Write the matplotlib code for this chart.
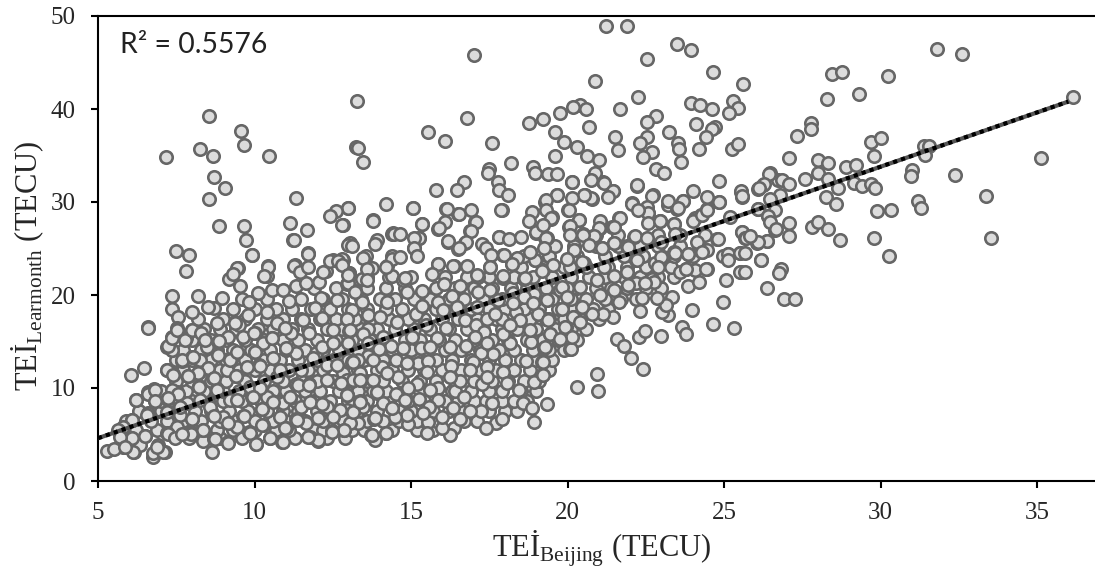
import matplotlib
matplotlib.use("Agg")
import matplotlib.pyplot as plt

# (TEI Beijing, TEI Learmonth), one list per area
upper_left = [(7.17,34.8),(8.26,35.7),(8.67,35.0),(8.55,39.3),(9.57,37.6),(9.66,36.1),(10.47,35.0),(8.71,32.7),(9.06,31.5),(8.55,30.3),
    (8.87,27.4),(9.66,27.4),(9.73,25.9),(9.92,24.3),(7.49,24.7),(7.9,24.3),(7.81,22.6),(9.44,22.9),(9.3,22.3),(10.43,23.0),(10.3,22.0),
    (13.27,40.9),(13.24,35.9),(13.3,35.8),(13.47,34.3),(11.33,30.4),(12.99,29.4),(12.6,29.0),(12.4,28.5),(14.2,29.8),(11.13,27.7),
    (12.8,27.5),(11.67,27.0),(11.26,25.9),(13.79,28.0),(14.4,26.6),(14.45,26.6),(13.9,25.9),(13.85,25.5),(13.0,25.4),(13.1,25.3),
    (11.7,24.4),(11.26,23.1),(11.45,22.5),(11.7,23.0),(12.2,22.5),(12.4,23.7),(12.67,23.7),(12.8,23.2),(13.45,24.0),(14.4,23.9),
    (13.6,22.8),(14.2,23.0),(13.0,22.2),(13.6,21.6)]

upper_mid = [(17.0,45.8),(21.24,48.96),(21.89,48.96),(23.49,47.0),(23.95,46.3),(22.55,45.4),(24.64,44.0),(25.62,42.65),(20.87,43.0),
    (22.25,41.25),(21.68,40.0),(23.95,40.6),(24.23,40.4),(24.6,40.0),(25.3,40.9),(25.46,40.1),(25.16,39.6),(20.4,40.4),(20.17,40.2),
    (20.6,40.0),(19.76,39.6),(19.23,38.9),(18.78,38.5),(16.78,39.0),(15.55,37.5),(16.09,36.6),(17.6,36.3),(18.18,34.2),(19.6,37.5),
    (19.89,36.4),(20.3,35.9),(20.62,34.9),(21.0,34.5),(19.6,34.9),(20.67,38.1),(21.53,37.0),(21.6,35.6),(22.83,39.3),(22.55,38.6),
    (22.55,37.0),(22.3,36.3),(22.71,35.4),(22.42,34.8),(23.24,37.5),(23.54,36.3),(23.57,35.7),(23.62,34.3),(24.1,38.35),(24.71,38.1),
    (24.6,37.9),(24.43,37.0),(24.21,35.7),(25.25,35.7),(25.46,36.2),(22.83,33.5),(23.08,33.1),(17.5,33.5),(17.47,33.1),(18.91,33.8),
    (18.95,33.1),(19.36,33.0),(19.66,33.0),(20.13,32.15),(20.88,33.1),(20.75,32.4),(21.17,32.0),(21.44,31.2),(21.28,30.5),(20.75,30.4),
    (20.51,30.8),(20.13,30.4),(19.66,30.8),(19.31,30.2),(22.22,31.8),(24.85,32.3),(24.02,31.2),(25.54,31.2),(25.57,30.6),(22.71,30.6),
    (22.06,29.8),(23.2,30.1),(23.7,30.1),(24.45,30.5),(24.85,29.96),(22.55,29.5),(22.58,28.85),(22.26,29.1),(23.54,29.4),(17.79,32.2),
    (17.8,31.3),(18.09,30.8),(16.7,32.15),(16.46,31.3),(15.8,31.3),(15.07,29.4),(16.14,29.2),(16.53,28.7),(16.9,29.1),(17.89,29.1),
    (15.35,27.6),(17.08,27.9),(16.09,27.8),(15.9,27.2),(16.9,26.9),(18.86,28.9),(18.78,28.0),(19.31,29.1),(19.48,28.3),(20.05,29.1),
    (20.38,28.1),(21.04,28.0),(21.66,28.3),(20.08,27.4),(18.98,26.8),(19.23,27.5),(21.0,27.2),(20.83,26.3),(20.5,26.5),(20.08,26.5),
    (21.47,27.3),(22.16,26.3),(22.55,26.1),(22.58,27.7),(22.96,28.0),(23.4,27.6),(23.44,26.6),(24.02,28.0),(24.29,28.6),(24.45,29.1),
    (25.19,28.4),(25.57,26.8),(25.67,26.1),(17.81,26.2),(18.13,26.0),(18.5,26.2),(19.31,26.1),(16.17,25.8),(15.27,26.1),(15.08,26.1),
    (15.1,25.1),(15.18,24.2),(16.75,25.7),(16.53,25.0),(17.26,25.5),(17.4,25.0),(17.55,24.3),(17.96,24.3),(18.38,24.0),(18.95,23.75),
    (18.8,24.6),(19.26,25.0),(20.22,24.8),(20.67,25.4),(21.09,25.0),(21.49,25.6),(21.94,25.2),(23.44,24.55),(23.0,24.1),(23.86,24.4),
    (24.29,24.65),(24.82,26.0),(25.14,24.4),(25.14,23.75),(25.51,24.55),(25.51,22.5),(23.79,22.76),(24.43,22.76),(22.9,23.05),(18.22,23.3),
    (17.53,23.0),(16.78,23.15),(16.35,23.15),(15.85,23.3),(15.66,22.3),(20.08,23.0),(19.55,23.2),(19.97,23.9),(20.45,23.6),(21.15,23.0),
    (21.89,22.5),(22.21,23.75),(19.18,22.6),(17.95,22.0),(18.64,21.8),(17.1,22.1),(14.8,21.8),(14.65,26.6),(14.66,24.1)]

right_side = [(31.79,46.5),(32.61,45.95),(28.44,43.75),(28.77,44.0),(30.24,43.6),(28.28,41.1),(29.3,41.65),(36.14,41.25),(27.79,38.5),
    (27.79,37.8),(27.34,37.1),(29.7,36.4),(30.0,36.85),(29.79,34.9),(27.09,34.75),(31.38,36.0),(31.56,36.0),(31.43,35.05),(35.12,34.75),
    (27.99,34.5),(28.32,34.2),(28.9,33.8),(29.22,33.95),(31.0,33.4),(30.97,32.8),(32.37,32.85),(27.99,33.1),(26.44,33.0),(26.84,32.4),
    (26.28,31.9),(26.12,31.5),(27.09,31.9),(27.59,32.5),(28.32,32.5),(28.65,31.5),(29.14,32.0),(29.42,31.7),(29.69,31.9),(29.82,31.5),
    (26.79,30.75),(26.47,30.3),(33.36,30.6),(31.18,30.1),(31.3,29.35),(28.27,30.5),(28.57,29.8),(29.88,29.0),(30.32,29.1),(26.63,29.1),
    (26.1,29.25),(26.39,28.5),(26.47,27.9),(27.09,27.75),(26.65,27.05),(27.09,26.35),(27.82,27.3),(27.99,27.9),(28.32,27.05),(28.69,25.95),
    (29.79,26.1),(33.52,26.1),(30.28,24.15),(26.36,25.8),(26.07,25.65),(25.7,26.1),(25.83,26.35),(26.18,23.75),(26.81,22.8),(26.76,22.4),
    (26.36,20.7),(26.9,19.6),(27.27,19.6),(25.67,22.5),(25.67,24.5)]

centre_right = [(20.1,14.15),(21.57,15.23),(21.81,14.5),(22.02,13.2),(22.42,12.0),(20.95,11.5),(20.29,10.14),(20.98,9.7),(22.28,15.45),
    (22.47,16.1),(22.99,15.6),(23.66,16.6),(23.77,15.8),(24.64,16.85),(25.33,16.4),(23.98,18.35),(24.96,19.3),(23.33,19.8),(23.2,17.9),
    (23.01,18.2),(23.15,18.9),(22.85,19.7),(22.31,18.3),(21.44,17.65),(21.14,17.95),(20.77,17.95),(21.65,19.2),(22.37,19.7),(23.86,21.0),
    (24.21,21.4),(24.44,22.8),(23.77,22.75),(23.59,22.5),(24.07,22.7),(25.06,21.6),(25.54,22.5),(26.18,23.8),(25.51,24.55),(25.14,24.4),
    (24.96,24.2),(24.79,26.0),(23.86,24.4),(24.31,24.66),(23.41,24.6),(22.79,23.4),(23.04,24.1),(22.18,23.76),(22.69,21.7),(22.77,21.4),
    (22.19,21.25),(22.47,21.3),(21.89,22.5),(21.48,22.0),(21.48,20.5),(21.94,21.1),(21.04,20.0),(20.95,21.6),(20.45,18.75),(20.18,17.67),
    (19.81,18.5),(19.39,17.3),(19.92,16.6),(20.4,17.1),(19.44,15.8),(20.13,15.5),(19.28,14.4),(19.76,15.3),(19.23,11.4),(19.2,12.8),
    (20.4,20.9),(19.81,20.9),(19.97,19.8),(19.33,19.5),(20.54,23.4),(21.09,25.0),(21.48,25.55),(22.12,26.2),(21.91,25.25),(20.22,24.84),
    (19.28,26.1),(20.82,26.34),(20.48,26.56),(20.06,27.35),(20.38,28.1),(20.03,29.1),(19.49,28.35),(21.04,27.17),(21.65,28.3),(21.41,27.35),
    (22.58,28.8),(22.95,28.0),(23.41,27.6),(22.98,25.7),(24.07,28.24),(24.26,28.6),(24.44,29.3),(23.7,30.1),(23.2,29.7),(23.51,29.3),
    (22.72,30.7),(22.07,29.85),(22.21,31.75),(24.84,30.04),(25.54,31.1),(25.56,30.57),(26.47,33.1),(26.25,31.83),(26.1,31.36),(26.1,29.3),
    (26.73,32.4),(26.41,28.5),(26.63,27.0),(25.56,26.8),(26.06,25.6),(26.38,25.8),(24.13,25.7),(24.44,24.84),(20.13,32.2),(19.65,30.75),
    (19.28,30.0),(20.56,30.75),(20.77,30.3),(21.14,32.1),(21.46,31.2)]

centre = [(13.05,25.5),(13.8,28.05),(14.41,26.7),(12.84,27.5),(13.0,29.4),(15.05,29.4),(15.34,27.6),(15.26,26.1),(15.09,25.1),(15.87,27.15),
    (16.17,25.7),(16.51,24.9),(16.74,25.6),(16.88,26.9),(17.04,27.9),(16.51,28.7),(16.12,29.2),(17.9,29.1),(19.46,28.2),(13.56,24.2),
    (14.4,24.2),(13.76,22.85),(12.82,23.75),(13.03,22.4),(13.42,21.7),(12.96,21.2),(13.21,20.45),(13.42,19.3),(13.1,18.4),(14.22,23.1),
    (14.4,22.0),(14.22,19.3),(13.64,17.9),(14.0,17.65),(12.94,17.4),(13.64,16.3),(13.03,16.1),(14.56,17.05),(15.15,17.95),(14.86,20.35),
    (15.34,20.45),(14.75,21.6),(15.87,23.3),(16.37,23.15),(16.05,21.15),(16.56,20.95),(15.85,19.27),(15.34,18.8),(16.01,18.4),(17.15,21.9),
    (17.52,23.0),(17.81,26.25),(17.95,24.3),(18.21,23.3),(18.96,23.75),(18.99,26.7),(19.33,26.1),(17.95,21.8),(18.62,21.67),(19.2,22.67),
    (17.15,20.27),(17.52,20.5),(18.25,20.2),(18.94,20.06),(19.35,19.45),(19.97,20.7),(20.2,23.9),(16.3,19.9),(16.72,17.3),(17.08,16.76),
    (17.42,17.37),(17.92,17.37),(18.34,18.2),(19.07,18.0),(19.42,17.37),(19.94,16.6),(20.22,17.65),(16.12,16.4),(15.48,16.76),(15.84,15.33),
    (15.31,14.25),(14.75,14.25),(14.35,14.54),(13.99,14.2),(13.64,13.43),(13.13,12.75),(14.52,13.0),(15.21,12.7),(15.55,12.9),(16.24,14.43),
    (16.76,14.5),(17.34,15.97),(18.16,14.8),(18.82,14.9),(19.44,15.76),(20.08,14.2),(19.26,14.3),(18.66,12.9),(19.17,12.75),(19.19,11.45),
    (17.61,13.7),(17.23,13.8),(16.99,12.8),(16.28,12.4),(17.95,11.74),(15.52,11.74),(14.57,11.2),(13.39,10.85),(13.9,9.5),(12.94,9.3),
    (13.37,8.6),(14.52,9.4),(15.2,10.4),(15.87,10.0),(15.26,8.87),(15.87,8.7),(16.4,9.66),(16.56,10.77),(17.26,10.4),(16.69,9.05),
    (17.58,8.44),(18.46,9.77),(18.94,10.6),(18.05,10.5),(18.59,8.44),(18.85,7.8),(19.35,8.26),(18.94,6.3),(17.71,6.2),(17.9,6.65),
    (17.38,5.65),(17.22,7.5),(16.88,7.5),(16.33,7.9),(15.58,7.98),(14.38,7.9),(13.16,7.44),(13.82,6.65),(14.91,6.1),(15.55,6.36),
    (16.37,5.65),(16.24,4.93),(15.52,5.2),(15.98,5.65),(16.56,6.65),(14.19,5.2),(13.71,4.93),(13.85,4.46),(12.86,5.47),(13.32,6.26),
    (14.86,7.1),(14.49,6.83),(16.46,18.7),(17.1,18.7),(17.79,19.45),(18.6,19.8),(17.68,18.0),(18.27,19.1),(18.91,19.1),(19.76,20.5),
    (17.42,14.8),(17.95,15.85),(18.8,16.2),(18.48,17.3),(18.16,16.76),(17.04,15.5),(15.6,14.43),(15.02,15.5),(14.11,15.5),(13.48,15.85),
    (12.99,14.8),(13.64,14.8),(13.32,13.0),(14.06,12.3),(14.86,12.64),(13.79,13.0),(12.84,11.56),(13.37,11.56),(13.79,10.85),(14.22,11.56),
    (14.91,9.95),(15.6,9.77),(16.24,11.2),(16.88,11.9),(17.42,12.28),(17.42,11.2),(12.94,7.6),(12.94,10.85),(13.48,7.98),(14.11,8.34),
    (14.8,8.7),(12.84,6.54),(15.39,7.26),(15.98,6.9)]

left_band = [(6.59,16.56),(6.47,12.15),(6.05,11.43),(7.37,19.9),(7.35,18.5),(7.56,17.6),(8.01,18.2),(8.19,19.9),(8.72,18.57),(8.97,19.64),
    (8.52,18.75),(8.79,16.95),(9.37,17.13),(9.8,17.85),(10.39,18.2),(9.83,19.28),(10.12,20.18),(10.57,20.54),(10.44,23.12),(10.39,22.04),
    (9.91,24.27),(9.46,22.94),(9.18,21.7),(9.53,20.97),(11.24,25.9),(11.72,24.48),(11.29,23.23),(11.45,22.6),(11.31,20.97),(10.92,20.54),
    (11.1,19.39),(11.64,21.25),(12.07,21.43),(12.28,22.6),(12.52,23.76),(12.78,23.83),(13.05,25.56),(13.0,21.25),(13.03,22.4),(13.21,20.36),
    (12.12,19.71),(12.64,19.46),(11.93,18.57),(12.14,17.49),(12.94,17.38),(13.05,16.24),(12.52,16.24),(11.75,15.88),(11.18,15.88),(10.71,16.95),
    (10.97,16.42),(10.57,15.34),(10.0,15.88),(9.5,16.78),(8.84,14.98),(8.42,15.16),(7.37,15.45),(7.99,16.24),(7.51,16.42),(7.8,15.34),
    (7.19,14.45),(7.37,14.09),(8.01,13.37),(8.84,13.55),(9.25,13.12),(10.01,13.91),(11.34,13.73),(10.58,13.19),(11.02,14.27),(11.98,13.73),
    (12.14,14.45),(12.52,14.8),(13.15,12.83),(12.3,12.47),(11.88,13.19),(10.15,12.47),(7.67,12.94),(7.4,11.47),(7.22,11.94),(7.86,11.33),
    (8.2,11.58),(8.68,11.04),(9.41,11.33),(8.47,12.19),(9.75,12.3),(9.11,11.94),(10.71,11.22),(11.34,10.4),(11.75,10.4),(12.76,10.5),
    (13.15,10.86),(12.3,10.86),(8.22,10.22),(7.51,9.53),(6.6,9.53),(6.79,9.9),(6.2,8.71),(6.82,8.64),(7.22,8.82),(7.35,9.8),
    (8.79,9.86),(9.93,9.07),(9.21,8.71),(10.57,8.6),(11.13,8.96),(11.77,8.46),(12.14,8.28),(12.94,9.25),(12.73,7.64),(13.15,7.46),
    (10.23,7.74),(9.64,7.03),(11.32,6.63),(12.04,6.74),(12.46,5.38),(12.86,5.49),(12.04,4.34),(11.77,4.7),(10.99,5.66),(10.87,4.16),
    (10.28,6.02),(10.04,3.94),(9.16,6.27),(9.16,4.16),(9.82,5.3),(8.66,7.1),(7.99,6.63),(7.62,7.1),(6.6,7.28),(6.1,6.56),
    (7.51,5.84),(7.22,5.13),(7.96,5.3),(8.36,4.34),(8.71,4.52),(8.63,3.15),(6.76,2.55),(6.05,4.59),(6.5,4.88),(6.92,3.87),
    (7.14,3.15),(5.81,3.69),(6.15,3.15),(6.34,3.87),(8.36,5.5),(10.49,4.59),(9.43,8.7),(9.43,5.85),(7.83,8.35),(8.26,8.7),
    (8.58,8.0),(9.0,6.9),(9.85,10.15),(10.39,9.07),(10.92,8.35),(10.17,9.97),(11.5,8.0),(12.3,8.0),(10.81,6.92),(11.66,6.2),
    (12.52,6.92),(13.05,6.2),(8.26,13.0),(9.16,15.5),(10.28,14.8),(10.81,11.94),(11.5,11.94),(12.62,12.47),(8.47,14.45),(9.64,15.5),
    (11.56,17.31)]

lower_left = [(5.3,3.25),(5.51,3.43),(6.13,3.14),(6.08,4.57),(6.5,4.83),(6.77,3.0),(7.09,3.14),(6.88,3.68),(6.1,6.55),(5.79,5.83),
    (5.65,5.47),(6.61,9.4),(6.82,9.77),(6.22,8.7),(6.82,8.6),(6.61,16.5),(5.7,4.75),(5.86,3.7),(6.56,7.08),(7.25,5.1),
    (7.46,4.6),(7.2,7.44),(7.62,8.0),(7.57,9.4),(7.25,8.88),(7.2,11.9),(7.41,11.4),(7.67,13.0),(7.35,14.07),(7.25,14.5),
    (7.35,15.4),(7.51,16.2),(7.78,15.2),(8.0,16.2),(8.29,15.94),(8.42,15.15),(8.85,15.04),(9.38,17.0),(9.99,15.87),(10.55,15.33),
    (8.03,13.36),(8.5,12.1),(8.21,11.56),(7.87,11.28),(8.69,11.03),(8.23,10.13),(8.79,9.77),(9.22,13.0),(9.43,13.9),(9.41,11.28),
    (10.02,13.9),(10.16,12.35),(9.96,9.05),(10.23,7.7),(10.23,6.0),(10.58,8.5),(11.14,9.0),(11.38,10.3),(11.75,10.3),(11.77,8.5),
    (12.17,8.27),(12.76,10.49),(12.95,9.24),(13.37,10.85),(13.9,9.6),(13.16,7.44),(13.37,8.5),(13.85,6.73),(14.38,7.8),(13.74,4.93),
    (14.19,5.18),(12.87,5.47),(12.49,5.29),(12.04,4.4),(11.72,4.75),(11.35,6.55),(10.98,5.65),(10.9,4.2),(10.05,3.97),(9.86,5.18),
    (9.68,6.98),(9.16,6.2),(9.16,4.1),(8.74,4.47),(8.69,6.98),(8.37,5.47),(8.0,6.62),(7.96,5.1),(7.67,5.1)]

# the overplotted middle of the cloud, estimated row by row: Learmonth level, then Beijing values
dense_levels = [4.6, 5.5, 6.4, 7.5, 8.6, 9.7, 10.8, 11.9, 13.0, 14.1, 15.2, 16.3, 17.4, 18.5, 19.6, 20.8, 21.9, 23.0, 24.2, 25.3, 26.5]
dense_beijing = [
    [7.9,8.9,9.6,10.5,11.3,12.3,12.9],
    [6.2,6.9,7.4,8.1,8.8,9.3,10.0,10.7,11.1,11.9,12.2,13.1,13.5,14.4,15.2,15.7],
    [5.9,6.7,7.2,7.7,8.3,8.9,9.4,10.0,10.6,11.0,11.6,12.2,12.7,13.6,14.1,14.6,15.2,15.8,16.7,17.1],
    [6.3,7.0,7.5,8.1,8.6,9.2,9.8,10.4,10.9,11.4,12.0,12.5,13.3,13.9,14.6,15.0,15.7,16.2,16.6,17.5,18.0,18.4],
    [7.0,7.6,8.0,8.5,9.0,9.6,10.2,10.7,11.3,11.9,12.4,13.0,13.6,14.3,14.9,15.4,16.1,16.5,17.0,17.4,17.9,18.3,18.7],
    [7.0,7.8,8.4,9.0,9.5,10.1,10.6,11.0,11.6,12.1,12.7,13.3,13.8,14.2,14.8,15.3,15.8,16.3,16.9,17.5,17.9,18.5,19.0],
    [7.5,8.0,8.6,9.1,9.7,10.3,10.9,11.5,12.0,12.5,13.1,13.6,14.1,14.7,15.3,15.8,16.4,17.0,17.6,18.1,18.6,19.1],
    [7.7,8.3,8.9,9.5,10.0,10.5,11.1,11.7,12.2,12.8,13.3,13.9,14.4,14.9,15.4,16.0,16.6,17.2,17.7,18.3,18.8,19.4],
    [7.5,8.0,8.6,9.1,9.7,10.3,10.8,11.4,12.0,12.5,13.0,13.5,14.1,14.7,15.2,15.8,16.3,16.9,17.5,18.0,18.5,19.0,19.5],
    [7.7,8.3,8.8,9.3,9.9,10.5,11.0,11.6,12.2,12.7,13.3,13.8,14.4,15.0,15.5,16.1,16.6,17.2,17.8,18.3,18.9,19.4,19.9],
    [8.0,8.6,9.1,9.7,10.3,10.9,11.4,12.0,12.6,13.1,13.7,14.2,14.8,15.3,15.9,16.4,17.0,17.6,18.1,18.7,19.2,19.7,20.3],
    [8.4,8.9,9.4,10.1,10.6,11.2,11.7,12.3,12.8,13.4,13.9,14.5,15.1,15.6,16.2,16.8,17.3,17.9,18.4,19.0,19.6,20.1,20.6],
    [8.2,9.0,9.7,10.4,10.9,11.5,12.1,12.6,13.2,13.7,14.3,14.9,15.4,16.0,16.5,17.1,17.7,18.2,18.8,19.3,19.9,20.4,21.0],
    [9.3,10.0,10.7,11.2,11.8,12.4,13.0,13.6,14.2,14.7,15.3,15.8,16.4,16.9,17.5,18.0,18.6,19.1,19.7,20.2,20.8,21.3],
    [9.6,10.4,11.5,12.2,12.8,13.4,14.0,14.5,15.1,15.6,16.2,16.7,17.3,17.9,18.4,19.0,19.5,20.1,20.6,21.2,21.7,22.2],
    [11.9,12.6,13.6,14.2,14.8,15.8,16.4,17.0,17.6,18.2,18.7,19.3,19.8,20.3,20.9,21.4,21.9,22.5,23.0],
    [13.6,14.3,15.0,16.1,16.8,17.5,18.3,18.9,19.5,20.1,20.7,21.2,21.8,22.3,22.9,23.4],
    [18.5,19.2,19.9,20.6,21.3,21.9,22.5,23.3,23.9],
    [18.6,19.4,20.3,21.2,21.8,22.4,23.4,24.0],
    [19.6,20.2,20.9,21.6,22.3,22.9,23.6,24.2],
    [20.9,21.6,22.9,23.6,24.4],
]

areas = [centre, left_band, lower_left, centre_right, upper_left, upper_mid, right_side]

trend_x = [5, 36]
trend_y = [4.6, 40.8]

x_ticks = [5, 10, 15, 20, 25, 30, 35]
y_ticks = [0, 10, 20, 30, 40, 50]

plt.rcParams["mathtext.fontset"] = "custom"
plt.rcParams["mathtext.rm"] = "Liberation Serif"

fig = plt.figure(figsize=(10.95, 5.67), dpi=100)
ax = fig.add_axes([98 / 1095, 86 / 567, 997 / 1095, 465 / 567])

marker = dict(s=80, c="#dcdcdc", edgecolors="#666666", linewidths=1.9)
for level, xs in zip(dense_levels, dense_beijing):
    ax.scatter(xs, [level] * len(xs), zorder=2, **marker)
for pts in areas:
    ax.scatter([p[0] for p in pts], [p[1] for p in pts], zorder=3, **marker)

# trendline: black with a grey dotted stroke on top
ax.plot(trend_x, trend_y, color="#555555", lw=3.0, zorder=4, solid_capstyle="butt")
ax.plot(trend_x, trend_y, color="black", lw=3.0, zorder=5, linestyle=(0, (1.0, 1.0)))

ax.set_xlim(5, 36.85)
ax.set_ylim(0, 50)
ax.set_xticks(x_ticks)
ax.set_yticks(y_ticks)
ax.tick_params(length=5, width=1.5, labelsize=18, labelcolor="#262626")
for lab in ax.get_xticklabels() + ax.get_yticklabels():
    lab.set_family("Liberation Serif")
ax.tick_params(axis="x", pad=10)
ax.tick_params(axis="y", pad=11)
ax.spines["right"].set_visible(False)
for side in ["left", "top", "bottom"]:
    ax.spines[side].set_linewidth(1.5)

fig.text(602 / 1095, 1 - 549 / 567, "TEİ$_{\\mathrm{Beijing}}$ (TECU)", family="Liberation Serif",
         fontsize=22, color="#262626", ha="center", va="center")
fig.text(28 / 1095, 1 - 266 / 567, "TEİ$_{\\mathrm{Learmonth}}$ (TECU)", family="Liberation Serif",
         fontsize=22, color="#262626", ha="center", va="center", rotation=90)
ax.text(120 / 1095, 1 - 45 / 567, "R² = 0.5576", transform=fig.transFigure, family="Lato",
        fontsize=20.4, color="#222222", ha="left", va="center")

fig.savefig("out.png", dpi=100)
